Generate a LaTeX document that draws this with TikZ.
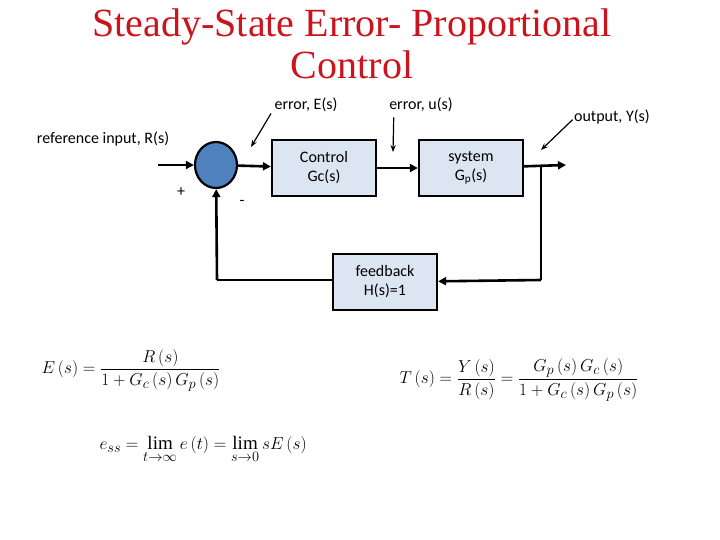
\documentclass[tikz,border=0pt]{standalone}
\usepackage{fontspec}
\setmainfont{Liberation Serif}
\newfontfamily\labelfont{Carlito}
\usepackage{amsmath}
\usetikzlibrary{arrows.meta,shapes.geometric}
\definecolor{titlered}{RGB}{204,20,30}
\definecolor{boxfill}{RGB}{220,230,242}
\definecolor{sumfill}{RGB}{79,129,189}

\begin{document}
\begin{tikzpicture}[x=1pt,y=-1pt]
\tikzset{blockbox/.style={draw, line width=2.2pt, fill=boxfill, minimum width=104pt, minimum height=56pt, align=center, font=\labelfont\fontsize{16}{19}\selectfont}}
\tikzset{sig/.style={line width=2.6pt, -{Triangle[length=8pt,width=8pt]}}}
\tikzset{pointer/.style={line width=1.2pt, -{Stealth[length=7pt]}}}
\tikzset{lbl/.style={font=\labelfont\fontsize{16}{19}\selectfont}}
\tikzset{eq/.style={font=\fontsize{19}{23}\selectfont}}
\useasboundingbox (0,0) rectangle (720,540);

\node[text=titlered, align=center, font=\fontsize{40}{42}\selectfont] (title) at (352,44) {Steady-State Error- Proportional\\Control};

% block diagram
\node[draw, line width=2.2pt, fill=sumfill, ellipse, minimum width=42pt, minimum height=46pt, inner sep=0pt] (sum) at (216,165) {};
\node[blockbox] (ctrl) at (324,168) {Control\\Gc(s)};
\node[blockbox] (plant) at (471,168) {system\\G$_{\text{p}}$(s)};
\node[blockbox] (fb) at (385,282) {feedback\\H(s)=1};
\coordinate (in) at (158,165);
\coordinate (out) at (566,165);
\coordinate (branch) at (541,165);
\coordinate (fbr) at (541,280);
\coordinate (fbl) at (217,280);

\draw[sig] (in) -- (sum);
\draw[sig] (sum) -- (ctrl);
\draw[sig] (ctrl) -- (plant);
\draw[sig] (plant) -- (out);
\draw[line width=2.6pt] (branch) -- (fbr);
\draw[sig] (fbr) -- (fb);
\draw[line width=2.6pt] (fb.west |- fbl) -- (fbl);
\draw[sig] (fbl) -- (sum);

\node[lbl] (rlbl) at (103,139) {reference input, R(s)};
\node[lbl] (plus) at (181,192) {+};
\node[lbl] (minus) at (242,203) {-};
\node[lbl] (elbl) at (306,105) {error, E(s)};
\node[lbl] (ulbl) at (421,105) {error, u(s)};
\node[lbl] (ylbl) at (612,117) {output, Y(s)};
\coordinate (etip) at (251,147);
\coordinate (utip) at (393,152);
\coordinate (ytip) at (541,150);
\draw[pointer] (elbl.south west) ++(0,-2) -- (etip);
\draw[pointer] (ulbl.south west) ++(8,2) -- (utip);
\draw[pointer] (ylbl.south west) ++(2,-8) -- (ytip);

% equations
\node[eq, anchor=west] (eqE) at (38,370) {$E\left(s\right)=\dfrac{R\left(s\right)}{1+G_c\left(s\right)G_p\left(s\right)}$};
\node[eq, anchor=west] (eqT) at (396,380) {$T\left(s\right)=\dfrac{Y\left(s\right)}{R\left(s\right)}=\dfrac{G_p\left(s\right)G_c\left(s\right)}{1+G_c\left(s\right)G_p\left(s\right)}$};
\node[eq, anchor=west] (eqss) at (96,450) {$e_{ss}=\lim\limits_{t\to\infty}e\left(t\right)=\lim\limits_{s\to 0}sE\left(s\right)$};
\end{tikzpicture}
\end{document}
